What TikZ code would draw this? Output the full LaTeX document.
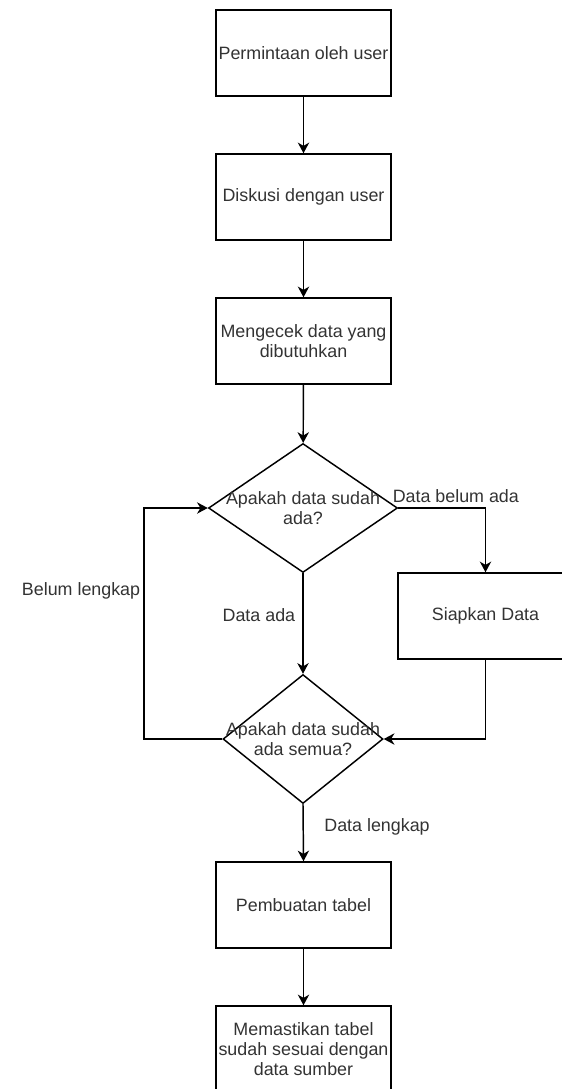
\documentclass[tikz,border=0pt]{standalone}
\usepackage{fontspec}
\setmainfont{Liberation Sans}
\usetikzlibrary{shapes.geometric,arrows.meta}

\begin{document}
\begin{tikzpicture}[
        x=0.75pt, y=-0.75pt,
        every node/.style={font=\fontsize{13.4}{15}\selectfont, text=black!80},
        proses/.style={rectangle, draw, line width=1.1pt, minimum width=131.25pt, minimum height=64.5pt, align=center, inner sep=2pt},
        keputusan/.style={diamond, draw, line width=1.1pt, minimum height=96.75pt, inner sep=0pt},
        panah/.style={line width=1.1pt, -{Stealth[length=8pt, width=8.5pt, inset=2.5pt]}}
    ]
        \useasboundingbox (0,0) rectangle (561,1089);

        % Langkah-langkah utama
        \node[proses] (P1) at (303.5,53) {Permintaan oleh user};
        \node[proses] (P2) at (303.5,197) {Diskusi dengan user};
        \node[proses] (P3) at (303.5,341) {Mengecek data yang\\dibutuhkan};

        % Keputusan
        \node[keputusan, minimum width=141.75pt, label={[align=center]center:{Apakah data sudah\\ada?}}] (D1) at (303,508) {};
        \node[keputusan, minimum width=120pt, label={[align=center]center:{Apakah data sudah\\ada semua?}}] (D2) at (303,739) {};

        \node[proses] (P4) at (485.5,616) {Siapkan Data};
        \node[proses] (P5) at (303.5,905) {Pembuatan tabel};
        \node[proses] (P6) at (303.5,1049) {Memastikan tabel\\sudah sesuai dengan\\data sumber};

        \coordinate (K1) at (144,739);

        % Alur
        \draw[panah] (P1) -- (P2);
        \draw[panah] (P2) -- (P3);
        \draw[panah] (P3) -- (D1);
        \draw[panah] (D1.east) -| node[pos=0.33, above] {Data belum ada} (P4.north);
        \draw[panah] (D1.south) -- node[pos=0.42, left=2pt] {Data ada} (D2.north);
        \draw[panah] (P4.south) |- (D2.east);
        \draw[panah] (D2.west) -- (K1) |- node[pos=0.32, left=-1pt] {Belum lengkap} (D1.west);  % kembali ke atas
        \draw[panah] (D2.south) -- node[pos=0.39, right=12pt] {Data lengkap} (P5.north);
        \draw[panah] (P5) -- (P6);
    \end{tikzpicture}
\end{document}
